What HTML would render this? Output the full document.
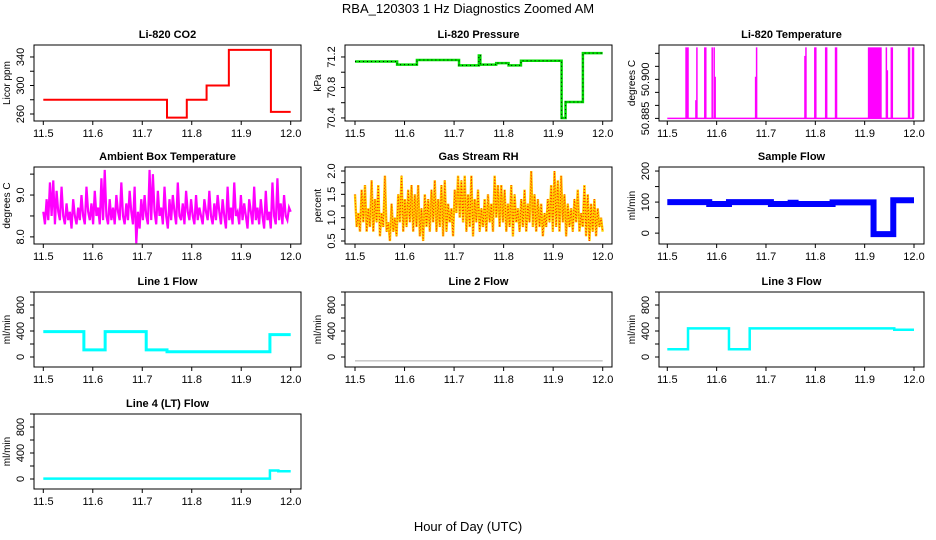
<!DOCTYPE html>
<html><head><meta charset="utf-8">
<style>
html,body{margin:0;padding:0;background:#fff;}
svg{display:block;font-family:"Liberation Sans",sans-serif;}
</style></head>
<body>
<svg id="fig" width="936" height="540" viewBox="0 0 936 540">
<text x="468" y="13" text-anchor="middle" font-size="13">RBA_120303  1 Hz Diagnostics Zoomed AM</text>
<text x="468" y="531" text-anchor="middle" font-size="13">Hour of Day (UTC)</text>
</svg>
<script>
// ---- data ----
var co2Start=[11.5,11.75,11.79,11.83,11.875,11.96];
var co2End=[11.75,11.79,11.83,11.875,11.96,12.0];
var co2Val=[280,255,280,300,350,263];
var presStart=[11.5,11.585,11.625,11.71,11.75,11.753,11.785,11.81,11.835,11.917,11.925,11.96];
var presEnd=[11.585,11.625,11.71,11.75,11.753,11.785,11.81,11.835,11.917,11.925,11.96,12.0];
var presVal=[71.14,71.10,71.16,71.09,71.22,71.10,71.12,71.09,71.15,70.40,70.61,71.25];
var tempBase=50.885;
var tempSpikeStart=[11.538,11.558,11.560,11.576,11.591,11.595,11.597,11.679,11.681,11.779,11.781,11.799,11.801,11.821,11.823,11.841,11.908,11.944,11.946,11.954,11.989,11.997];
var tempSpikeEnd=[11.542,11.558,11.560,11.578,11.591,11.595,11.597,11.679,11.681,11.779,11.781,11.799,11.801,11.821,11.823,11.843,11.933,11.944,11.946,11.956,11.991,11.999];
var tempSpikeVal=[50.9123,50.892,50.9123,50.9123,50.9123,50.9123,50.901,50.901,50.9123,50.909,50.9123,50.9123,50.9123,50.9123,50.9123,50.9123,50.9123,50.9123,50.9035,50.9123,50.9123,50.9123];
var ambientVals=[8.6,8.3,8.9,8.4,9.3,8.5,9.35,8.3,9.1,8.6,8.4,9.2,8.5,8.3,8.8,8.4,8.6,8.2,8.9,8.5,
8.3,8.7,8.4,9.0,8.5,8.3,9.2,8.6,8.4,8.8,8.3,9.1,8.5,8.7,8.3,9.4,8.4,9.6,8.5,8.3,
8.9,8.4,8.7,8.3,9.0,8.6,8.4,9.3,8.5,8.3,8.8,8.4,9.1,8.6,8.3,9.2,7.85,8.6,8.2,8.9,
8.4,9.0,8.5,8.3,9.6,8.4,9.5,8.6,8.3,9.1,8.5,8.7,8.3,9.2,8.5,8.2,8.9,8.4,9.0,8.6,
8.3,9.3,8.5,8.4,8.8,8.3,9.1,8.6,8.4,8.9,8.5,8.3,9.0,8.4,8.7,8.5,8.3,8.9,8.6,8.4,
9.1,8.5,8.3,8.8,8.4,9.0,8.6,8.3,8.9,8.5,8.2,9.2,8.4,8.7,8.3,9.3,8.5,8.6,8.3,9.0,
8.4,8.8,8.5,8.2,8.9,8.6,8.3,9.2,8.4,8.7,8.3,8.9,8.5,8.2,9.1,8.4,8.6,8.2,9.3,8.5,
8.3,9.4,8.4,8.8,8.3,9.0,8.5,8.4,8.7,8.6];
var rhVals=[1.5,0.8,1.1,0.7,1.6,0.9,1.7,0.7,1.2,0.8,1.8,0.7,1.4,0.9,1.7,0.6,1.1,0.8,1.9,0.7,
0.9,0.5,1.3,0.7,1.0,0.6,1.5,0.9,1.9,0.7,1.4,0.8,1.6,0.9,1.7,0.7,1.5,0.8,1.7,0.6,
1.2,0.5,1.5,0.8,1.4,0.7,1.6,0.9,1.8,0.7,1.4,0.8,1.7,0.6,1.8,0.7,1.3,0.9,1.2,0.6,
1.6,1.1,1.9,1.0,1.8,0.9,1.9,0.7,1.5,0.8,1.9,0.6,1.4,0.9,1.6,0.7,1.2,0.8,1.4,0.7,
1.5,0.9,1.3,0.7,1.9,1.0,1.7,0.8,1.7,0.9,1.6,0.7,1.3,0.8,1.7,0.6,1.5,0.9,1.2,0.7,
1.4,0.8,1.6,0.7,1.3,0.9,2.0,0.8,1.5,0.7,1.4,0.8,1.3,0.6,1.1,0.8,1.4,0.9,1.7,0.7,
2.0,0.8,1.8,0.7,1.9,0.9,1.5,0.6,1.3,0.8,1.2,0.7,1.4,0.9,1.6,0.7,1.1,0.8,1.7,0.6,
1.5,0.5,1.3,0.7,1.4,0.6,1.2,0.8,1.0,0.7];
var sfStart=[11.5,11.585,11.625,11.71,11.75,11.76,11.835,11.918,11.958];
var sfEnd=[11.585,11.625,11.71,11.75,11.76,11.835,11.918,11.958,12.0];
var sfVal=[100,94,100,94,98,94,99,-3,106];
var l1Start=[11.5,11.582,11.625,11.708,11.75,11.958];
var l1End=[11.582,11.625,11.708,11.75,11.958,12.0];
var l1Val=[390,110,390,110,80,345];
var l2Start=[11.5];
var l2End=[12.0];
var l2Val=[-60];
var l3Start=[11.5,11.542,11.625,11.667,11.96];
var l3End=[11.542,11.625,11.667,11.96,12.0];
var l3Val=[120,440,120,440,420];
var l4Start=[11.5,11.958,11.975];
var l4End=[11.958,11.975,12.0];
var l4Val=[5,130,120];
var xTicks=[11.5,11.6,11.7,11.8,11.9,12.0];
var xTickLabels=["11.5","11.6","11.7","11.8","11.9","12.0"];

// ---- layout ----
var NS="http://www.w3.org/2000/svg";
var fig=document.getElementById('fig');
var colLeft=[34,345,659], colRight=[301,612,924];
var colX0=[43.3,355,667.3], colX1=[290.7,602.7,914];
var rowTop=[45,167,292,414], rowBot=[121,244,367,489];

function mk(tag,attrs,parent){var e=document.createElementNS(NS,tag);for(var k in attrs)e.setAttribute(k,attrs[k]);(parent||fig).appendChild(e);return e;}

function panel(c,r,title,yl,ymin,ymax,ticks,labels,slug){
  var g=mk('g',{});
  
  
  var L=colLeft[c],R=colRight[c],T=rowTop[r],B=rowBot[r];
  var sx=function(v){return colX0[c]+(v-11.5)/0.5*(colX1[c]-colX0[c]);};
  var sy=function(v){return B-(v-ymin)/(ymax-ymin)*(B-T);};
  var t=mk('text',{x:(L+R)/2,y:T-7,'text-anchor':'middle','font-size':'11','font-weight':'bold'},g);
  t.textContent=title;
  
  
  var box=mk('rect',{x:L,y:T,width:R-L,height:B-T,fill:'none',stroke:'#000','stroke-width':'1'},g);
  
  
  var xa=mk('g',{},g);
  
  
  xTicks.forEach(function(v,i){
    mk('line',{x1:sx(v),x2:sx(v),y1:B,y2:B+4,stroke:'#000'},xa);
    var tl=mk('text',{x:sx(v),y:B+16,'text-anchor':'middle','font-size':'11'},xa);
    tl.textContent=xTickLabels[i];
  });
  var ya=mk('g',{},g);
  
  
  ticks.forEach(function(v,i){
    var y=sy(v);
    mk('line',{x1:L,x2:L-4,y1:y,y2:y,stroke:'#000'},ya);
    if(labels[i]!==''){
      var tl=mk('text',{x:L-10,y:y,'text-anchor':'middle','font-size':'11',transform:'rotate(-90 '+(L-10)+' '+y+')'},ya);
      tl.textContent=labels[i];
    }
  });
  var cy=(T+B)/2, cx=L-24;
  var yt=mk('text',{x:cx,y:cy,'text-anchor':'middle','font-size':'10',transform:'rotate(-90 '+cx+' '+cy+')'},g);
  yt.textContent=yl;
  
  
  var clip=mk('clipPath',{id:'clip-'+slug},g);
  mk('rect',{x:L,y:T,width:R-L,height:B-T},clip);
  var plot=mk('g',{'clip-path':'url(#clip-'+slug+')'},g);
  
  
  return {sx:sx,sy:sy,g:plot};
}

function steps(p,starts,ends,vals,color,w,slug){
  var pts=[];
  for(var i=0;i<starts.length;i++){pts.push(p.sx(starts[i])+','+p.sy(vals[i]));pts.push(p.sx(ends[i])+','+p.sy(vals[i]));}
  var pl=mk('polyline',{points:pts.join(' '),fill:'none',stroke:color,'stroke-width':w},p.g);
  
  
}
function dense(p,vals,color,w,slug,dash){
  var pts=vals.map(function(v,i){return p.sx(11.5+i*0.5/(vals.length-1))+','+p.sy(v);});
  var pl=mk('polyline',{points:pts.join(' '),fill:'none',stroke:color,'stroke-width':w},p.g);
  if(dash)pl.setAttribute('stroke-dasharray',dash);
  
  
}

// CO2
var p=panel(0,0,'Li-820 CO2','Licor ppm',250.2,356.8,[260,280,300,320,340],['260','','300','','340'],'co2');
steps(p,co2Start,co2End,co2Val,'#ff0000',2,'co2');
// Pressure
p=panel(1,0,'Li-820 Pressure','kPa',70.36,71.357,[70.4,70.6,70.8,71.0,71.2],['70.4','','70.8','','71.2'],'pressure');
steps(p,presStart,presEnd,presVal,'#00dd00',2.5,'pressure');
steps(p,presStart,presEnd,presVal,'#000',1,'pressure-dots');
p.g.lastChild.setAttribute('stroke-dasharray','1,3');
// Temperature
p=panel(2,0,'Li-820 Temperature','degrees C',50.884,50.9132,[50.885,50.890,50.895,50.900,50.905,50.910],['50.885','','','50.900','',''],'li820-temp');
var bl=mk('line',{x1:p.sx(11.5),x2:p.sx(12.0),y1:p.sy(tempBase),y2:p.sy(tempBase),stroke:'#ff00ff','stroke-width':1.5},p.g);


for(var i=0;i<tempSpikeStart.length;i++){
  var x0=p.sx(tempSpikeStart[i]),x1=p.sx(tempSpikeEnd[i]);
  var yv=p.sy(tempSpikeVal[i]),yb=p.sy(tempBase);
  var sp=mk('rect',{x:x0-0.75,y:yv,width:Math.max(1.5,x1-x0+1.5),height:yb-yv,fill:'#ff00ff'},p.g);
  
  
}
// Ambient
p=panel(0,1,'Ambient Box Temperature','degrees C',7.83,9.67,[8.0,8.5,9.0,9.5],['8.0','','9.0',''],'ambient-temp');
dense(p,ambientVals,'#ff00ff',2.2,'ambient-temp');
// RH
p=panel(1,1,'Gas Stream RH','percent',0.436,2.086,[0.5,0.75,1.0,1.25,1.5,1.75,2.0],['0.5','','1.0','','1.5','','2.0'],'gas-rh');
dense(p,rhVals,'#ffd000',2.4,'gas-rh');
dense(p,rhVals,'#ff2000',1,'gas-rh-dots','1,2');
// Sample flow
p=panel(2,1,'Sample Flow','ml/min',-35,213,[0,50,100,150,200],['0','','100','','200'],'sample-flow');
steps(p,sfStart,sfEnd,sfVal,'#0000ff',6,'sample-flow');
// Line flows
var ft=[0,200,400,600,800,1000], fl=['0','','400','','800',''];
p=panel(0,2,'Line 1 Flow','ml/min',-154,1000,ft,fl,'line1-flow');
steps(p,l1Start,l1End,l1Val,'#00ffff',3,'line1-flow');
p=panel(1,2,'Line 2 Flow','ml/min',-154,1000,ft,fl,'line2-flow');
steps(p,l2Start,l2End,l2Val,'#aaaaaa',1,'line2-flow');
p=panel(2,2,'Line 3 Flow','ml/min',-154,1000,ft,fl,'line3-flow');
steps(p,l3Start,l3End,l3Val,'#00ffff',2.5,'line3-flow');
p=panel(0,3,'Line 4 (LT) Flow','ml/min',-154,1000,ft,fl,'line4-flow');
steps(p,l4Start,l4End,l4Val,'#00ffff',2.5,'line4-flow');
</script>
</body></html>
